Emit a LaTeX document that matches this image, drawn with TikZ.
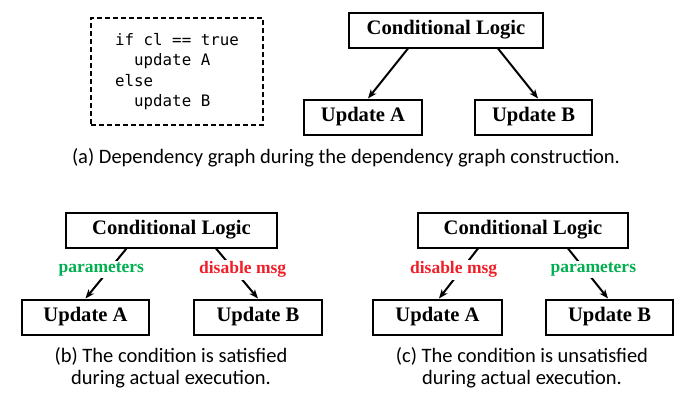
\documentclass[tikz,border=0pt]{standalone}
\usepackage{fontspec}
\usetikzlibrary{positioning, arrows.meta}
\newfontfamily\boxfont{Liberation Serif}
\newfontfamily\capfont{Carlito}
\newfontfamily\codefont{DejaVu Sans Mono}
\definecolor{paramgreen}{RGB}{0,176,80}
\definecolor{msgred}{RGB}{240,30,40}
\tikzset{every picture/.style={line width=2pt}}

\begin{document}
\begin{tikzpicture}[x=1pt, y=-1pt,
    box/.style={draw, inner sep=0pt, minimum height=35pt, font=\boxfont\bfseries\fontsize{20.6}{24}\selectfont},
    lbl/.style={fill=white, inner sep=2pt, font=\boxfont\bfseries\fontsize{17.5}{20}\selectfont},
    arr/.style={-{Stealth[length=9pt,width=7pt,inset=2.5pt]}},
    caption/.style={align=center, font=\capfont\fontsize{20.5}{22}\selectfont}]
        \useasboundingbox (0,0) rectangle (682,394);

        % (a) construction
        \node[draw, dash pattern=on 5pt off 3pt, align=left, minimum width=172pt, minimum height=107pt,
              font=\codefont\fontsize{15.8}{20.5}\selectfont] (code) at (177,71.5)
            {if cl == true\\\phantom{xx}update A\\else\\\phantom{xx}update B};
        \node[box, minimum width=194pt] (cla) at (446,30) {Conditional Logic};
        \node[box, minimum width=118pt, below=50pt of cla, xshift=-83pt] (ua) {Update A};
        \node[box, minimum width=117pt, below=50pt of cla, xshift=87.5pt] (ub) {Update B};
        \node[caption] (capa) at (346,158) {(a) Dependency graph during the dependency graph construction.};

        \draw
            ([xshift=-38pt]cla.south) edge[arr] ([xshift=5pt]ua.north)
            ([xshift=52pt]cla.south) edge[arr] ([xshift=4.5pt]ub.north)
            ;

        % (b) satisfied
        \node[box, minimum width=211pt] (clb) at (171.5,230) {Conditional Logic};
        \node[box, minimum width=127pt, below=50pt of clb, xshift=-86pt] (uab) {Update A};
        \node[box, minimum width=128pt, below=50pt of clb, xshift=86.5pt] (ubb) {Update B};
        \node[caption] (capb) at (171,368) {(b) The condition is satisfied\\during actual execution.};

        \draw
            ([xshift=-45pt]clb.south) edge[arr] node[lbl, pos=.42, xshift=-8pt, text=paramgreen] {parameters} (uab.north)
            ([xshift=44.5pt]clb.south) edge[arr] node[lbl, pos=.42, xshift=9pt, text=msgred] {disable msg} (ubb.north)
            ;

        % (c) unsatisfied
        \node[box, minimum width=210pt] (clc) at (523,230) {Conditional Logic};
        \node[box, minimum width=129pt, below=50pt of clc, xshift=-85.5pt] (uac) {Update A};
        \node[box, minimum width=127pt, below=50pt of clc, xshift=86.5pt] (ubc) {Update B};
        \node[caption] (capc) at (522,368) {(c) The condition is unsatisfied\\during actual execution.};

        \draw
            ([xshift=-45pt]clc.south) edge[arr] node[lbl, pos=.42, xshift=-8pt, text=msgred] {disable msg} ([xshift=1.5pt]uac.north)
            ([xshift=45pt]clc.south) edge[arr] node[lbl, pos=.42, xshift=8.5pt, text=paramgreen] {parameters} ([xshift=-1.5pt]ubc.north)
            ;
    \end{tikzpicture}
\end{document}
